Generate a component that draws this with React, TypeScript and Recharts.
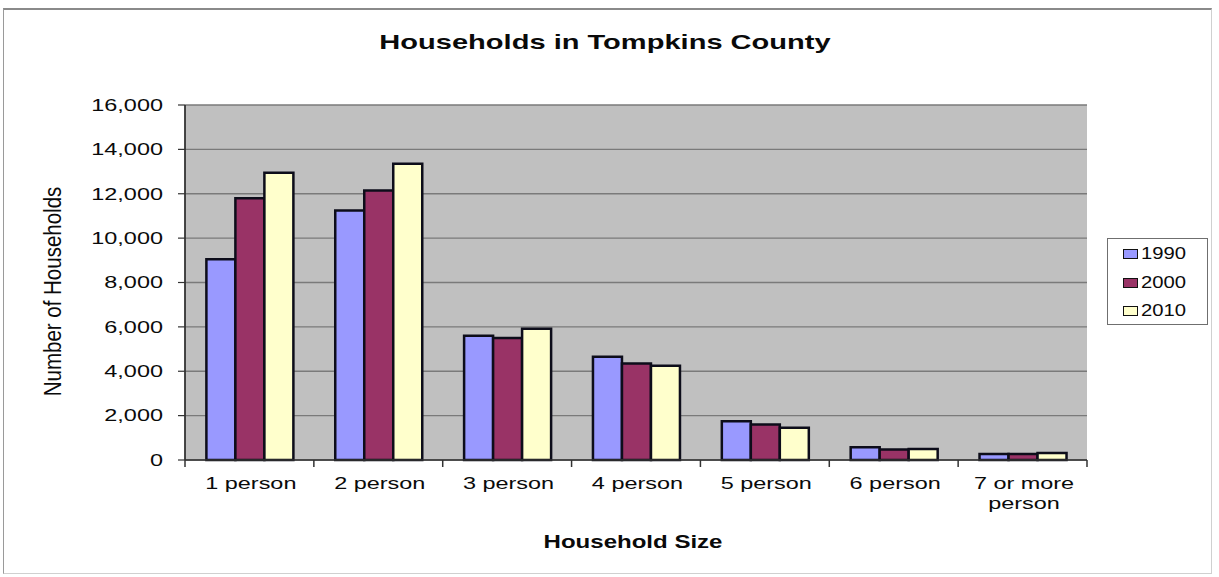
import React from 'react';
import { BarChart, Bar, XAxis, YAxis, CartesianGrid, Legend, Label } from 'recharts';

// Household counts by size, Tompkins County (census years)
const categories = ['1 person', '2 person', '3 person', '4 person', '5 person', '6 person', '7 or more person'];
const hh1990 = [9050, 11250, 5600, 4650, 1750, 570, 270];
const hh2000 = [11800, 12150, 5500, 4350, 1600, 470, 270];
const hh2010 = [12950, 13350, 5920, 4250, 1450, 500, 320];
const yTicks = [0, 2000, 4000, 6000, 8000, 10000, 12000, 14000, 16000];

const SERIES = [
  { key: '1990', values: hh1990, color: '#9999FF' },
  { key: '2000', values: hh2000, color: '#993366' },
  { key: '2010', values: hh2010, color: '#FFFFCC' },
];

const data = categories.map((name, i) => {
  const row: Record<string, string | number> = { name };
  SERIES.forEach((s) => (row[s.key] = s.values[i]));
  return row;
});

const FONT = '"Liberation Sans", Arial, Helvetica, sans-serif';
const W = 1219;
const H = 577;
const MARGIN = { top: 105, right: 132, bottom: 57, left: 0 };
const Y_AXIS_W = 185;
const X_AXIS_H = 60;
const BAND = (W - MARGIN.left - MARGIN.right - Y_AXIS_W) / categories.length;

const fmt = (v: number) => v.toLocaleString('en-US');

// split long labels onto two lines, last word goes below
const splitLabel = (s: string) => {
  if (s.length <= 10) return [s];
  const i = s.lastIndexOf(' ');
  return [s.slice(0, i), s.slice(i + 1)];
};

const YTick = ({ x, y, payload }: any) => (
  <g transform={`translate(${x},${y})`}>
    <text transform="scale(1.44,1)" textAnchor="end" dy="0.36em" fontSize={16.3} fontFamily={FONT} fill="#0a0a0a">
      {fmt(payload.value)}
    </text>
  </g>
);

// category labels, with Excel-style tick marks on the band boundaries
const XTick = ({ x, y, payload, index }: any) => {
  const lines = splitLabel(payload.value);
  return (
    <g transform={`translate(${x},${y})`}>
      <line x1={-BAND / 2} x2={-BAND / 2} y1={0} y2={7} stroke="#333" strokeWidth={1.5} />
      {index === categories.length - 1 && (
        <line x1={BAND / 2} x2={BAND / 2} y1={0} y2={7} stroke="#333" strokeWidth={1.5} />
      )}
      <text transform="scale(1.42,1)" textAnchor="middle" fontSize={16.5} fontFamily={FONT} fill="#0a0a0a">
        {lines.map((l, i) => (
          <tspan key={i} x={1} y={29 + i * 20}>
            {l}
          </tspan>
        ))}
      </text>
    </g>
  );
};

const LegendBox = () => (
  <div
    style={{
      border: '1.5px solid #6f6f6f',
      background: '#fff',
      width: 101,
      height: 87,
      boxSizing: 'border-box',
      paddingTop: 1,
      fontFamily: FONT,
    }}
  >
    {SERIES.map((s) => (
      <div key={s.key} style={{ display: 'flex', alignItems: 'center', height: 28.5 }}>
        <span
          style={{
            display: 'inline-block',
            width: 13,
            height: 8,
            marginLeft: 15,
            background: s.color,
            border: '1.5px solid #111',
          }}
        />
        <span
          style={{
            display: 'inline-block',
            marginLeft: 3,
            fontSize: 17,
            color: '#0a0a0a',
            transform: 'scaleX(1.19)',
            transformOrigin: 'left center',
          }}
        >
          {s.key}
        </span>
      </div>
    ))}
  </div>
);

export default function App() {
  return (
    <div style={{ position: 'absolute', left: 0, top: 0, width: W, height: H, background: '#fff' }}>
      <div
        style={{
          position: 'absolute',
          left: 3,
          top: 8,
          width: 1209,
          height: 566,
          borderTop: '2px solid #8a8a8a',
          borderLeft: '1.5px solid #9a9a9a',
          borderRight: '1px solid #d0d0d0',
          borderBottom: '1px solid #d0d0d0',
          boxSizing: 'border-box',
        }}
      />
      <BarChart width={W} height={H} data={data} margin={MARGIN} barCategoryGap="16.6%" barGap={0}>
        <CartesianGrid vertical={false} fill="#C0C0C0" fillOpacity={1} stroke="#7a7a7a" strokeWidth={1.3} />
        <XAxis
          dataKey="name"
          interval={0}
          height={X_AXIS_H}
          tickLine={false}
          tickSize={0}
          tickMargin={0}
          axisLine={{ stroke: '#333', strokeWidth: 1.5 }}
          tick={<XTick />}
        >
          <Label
            content={({ viewBox }: any) => (
              <text
                transform={`translate(${viewBox.x + viewBox.width / 2 - 3},${viewBox.y + 88}) scale(1.3,1)`}
                textAnchor="middle"
                fontSize={18.5}
                fontWeight="bold"
                fontFamily={FONT}
                fill="#0a0a0a"
              >
                Household Size
              </text>
            )}
          />
        </XAxis>
        <YAxis
          width={Y_AXIS_W}
          domain={[0, 16000]}
          ticks={yTicks}
          interval={0}
          tickSize={7}
          tickMargin={15}
          tickLine={{ stroke: '#333', strokeWidth: 1.2 }}
          axisLine={{ stroke: '#333', strokeWidth: 1.8 }}
          tick={<YTick />}
        >
          <Label
            content={({ viewBox }: any) => (
              <text
                transform={`translate(53,${viewBox.y + viewBox.height / 2 + 9}) scale(1.18,1) rotate(-90)`}
                textAnchor="middle"
                dominantBaseline="central"
                fontSize={20.5}
                fontFamily={FONT}
                fill="#0a0a0a"
              >
                Number of Households
              </text>
            )}
          />
        </YAxis>
        <YAxis
          yAxisId="frame"
          orientation="right"
          width={0}
          domain={[0, 16000]}
          tick={false}
          tickLine={false}
          axisLine={{ stroke: '#808080', strokeWidth: 1.5 }}
        />
        <text
          transform="translate(605,49) scale(1.49,1)"
          textAnchor="middle"
          fontSize={19.5}
          fontWeight="bold"
          fontFamily={FONT}
          fill="#0a0a0a"
        >
          Households in Tompkins County
        </text>
        <Legend
          layout="horizontal"
          verticalAlign="middle"
          align="center"
          content={<LegendBox />}
          wrapperStyle={{ left: 1107, top: 238, width: 101 }}
        />
        {SERIES.map((s) => (
          <Bar
            key={s.key}
            dataKey={s.key}
            name={s.key}
            fill={s.color}
            stroke="#0d0d1a"
            strokeWidth={2.5}
            isAnimationActive={false}
          />
        ))}
      </BarChart>
    </div>
  );
}
